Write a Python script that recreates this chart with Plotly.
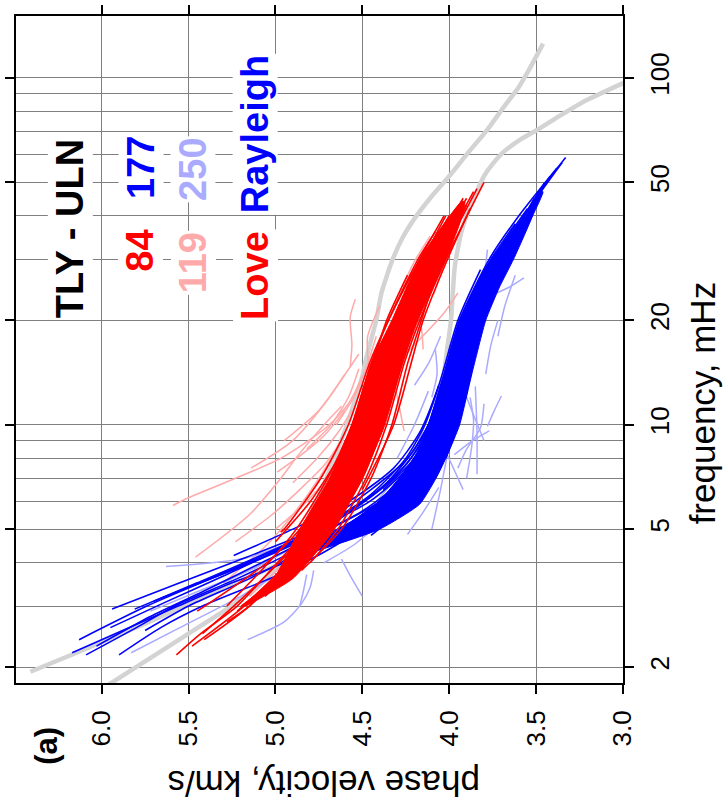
import plotly.graph_objects as go

# ---------------- data (frequency in mHz, phase velocity in km/s) ----------------
# reference (model) curves, light grey
ref_love_f = [1.78, 2.50, 2.94, 3.5, 3.96, 4.94, 7.15, 9.93, 13.8, 15.4, 20.0, 24.0, 29.6, 34.5, 39.3, 45.0, 52.1, 61.0, 71.0, 82.0, 94.1, 108.0, 125.6]
ref_love_v = [5.96, 5.50, 5.28, 5.08, 4.97, 4.84, 4.70, 4.59, 4.50, 4.48, 4.42, 4.39, 4.33, 4.27, 4.20, 4.11, 4.00, 3.89, 3.78, 3.69, 3.60, 3.53, 3.46]
ref_rayl_f = [1.94, 2.19, 2.67, 3.2, 3.96, 4.51, 5.5, 6.26, 8.71, 12.1, 16.8, 20.0, 23.7, 28.0, 32.3, 36.0, 40.1, 46.0, 52.1, 56.5, 61.0, 66.0, 71.0, 78.0, 85.3, 96.6, 110]
ref_rayl_v = [6.41, 6.155, 5.75, 5.40, 4.98, 4.72, 4.45, 4.32, 4.14, 4.05, 4.01, 3.99, 3.98, 3.97, 3.95, 3.93, 3.90, 3.85, 3.80, 3.75, 3.69, 3.60, 3.49, 3.36, 3.23, 3.00, 2.75]

# dense core of the selected Love curves (solid red area)
love_core_f = [3.0, 3.6, 5, 7, 10, 15, 20, 30, 38, 44]
love_core_vhi = [5.20, 5.01, 4.86, 4.69, 4.56, 4.45, 4.33, 4.17, 4.03, 3.93]
love_core_vlo = [5.17, 4.90, 4.66, 4.50, 4.37, 4.27, 4.18, 4.02, 3.94, 3.91]

# dense core of the selected Rayleigh curves (solid blue area)
rayl_core_f = [4.3, 5.0, 5.9, 7.1, 8.2, 10, 14, 20, 25, 30, 35, 40, 47]
rayl_core_vhi = [4.82, 4.62, 4.42, 4.28, 4.19, 4.12, 4.03, 3.94, 3.85, 3.76, 3.65, 3.56, 3.48]
rayl_core_vlo = [4.78, 4.40, 4.17, 4.07, 4.01, 3.94, 3.87, 3.79, 3.71, 3.63, 3.57, 3.52, 3.46]

# selected Love dispersion curves (red)
love_curves = [
    ([2.17, 2.5, 3.0, 4.0, 5.0, 7.0, 10, 15, 20, 30], [5.57, 5.43, 5.22, 4.99, 4.82, 4.64, 4.51, 4.40, 4.30, 4.13]),
    ([2.9, 4, 5, 7, 10, 15, 20, 30, 40], [5.45, 5.05, 4.86, 4.67, 4.54, 4.42, 4.31, 4.14, 4.00]),
    ([2.5, 3, 4, 5, 7, 10, 15, 20, 30, 45], [5.42, 5.24, 4.98, 4.80, 4.62, 4.49, 4.38, 4.28, 4.10, 3.90]),
    ([2.9, 4, 5, 7, 10, 15, 20, 30, 42], [5.22, 4.92, 4.76, 4.58, 4.46, 4.35, 4.26, 4.09, 3.94]),
    ([2.7, 3, 4, 5, 7, 10, 15, 20, 30, 38], [5.28, 5.15, 4.90, 4.73, 4.55, 4.43, 4.33, 4.24, 4.07, 3.97]),
    ([3.5, 4, 5, 7, 10, 15, 20, 30, 48], [4.98, 4.88, 4.70, 4.52, 4.40, 4.30, 4.21, 4.05, 3.84]),
    ([4.9, 5, 7, 10, 15, 20, 30, 40], [4.97, 4.95, 4.74, 4.58, 4.46, 4.35, 4.17, 4.03]),
    ([4.5, 5, 7, 10, 15, 20, 30, 45], [4.88, 4.82, 4.63, 4.50, 4.39, 4.29, 4.12, 3.92]),
    ([4, 5, 7, 10, 15, 20, 30, 50], [4.80, 4.64, 4.48, 4.36, 4.26, 4.17, 4.02, 3.80]),
    ([3.2, 4, 5, 7, 10, 15, 20, 28], [5.06, 4.86, 4.68, 4.50, 4.38, 4.27, 4.19, 4.08]),
    ([5.5, 7, 10, 15, 20, 30, 40], [4.80, 4.67, 4.53, 4.42, 4.32, 4.15, 4.02]),
    ([6, 7, 10, 15, 20, 30, 47], [4.62, 4.55, 4.42, 4.32, 4.23, 4.07, 3.86]),
    ([3.8, 5, 7, 10, 15, 20, 25], [4.85, 4.62, 4.45, 4.33, 4.24, 4.16, 4.10]),
    ([6.5, 10, 15, 20, 30, 42], [4.50, 4.32, 4.22, 4.15, 4.01, 3.88]),
    ([2.3, 3, 4, 5, 7, 10, 15], [5.48, 5.18, 4.93, 4.77, 4.60, 4.48, 4.37]),
    ([3, 4, 5, 7, 10, 15, 20, 30, 36], [5.28, 5.04, 4.88, 4.70, 4.56, 4.45, 4.35, 4.18, 4.08]),
    ([5, 7, 10, 15, 20, 30, 43], [4.70, 4.53, 4.41, 4.31, 4.22, 4.05, 3.90]),
    ([4.2, 5, 7, 10, 15, 20, 30, 40], [4.93, 4.84, 4.66, 4.52, 4.41, 4.30, 4.13, 4.00]),
    ([2.4, 3, 4, 5, 7, 10], [5.41, 5.15, 4.92, 4.76, 4.58, 4.46]),
    ([4.6, 6, 8, 11, 15, 20, 27], [5.00, 4.80, 4.64, 4.52, 4.44, 4.36, 4.24]),
]

# rejected Love curves (light red)
love_extra_curves = [
    ([5.85, 6.1, 8.0, 9.9, 11.5, 13.8], [5.59, 5.52, 4.97, 4.70, 4.58, 4.50]),
    ([4.15, 5.5, 7.0, 8.16, 10, 11.3], [5.46, 5.15, 4.97, 4.87, 4.72, 4.62]),
    ([4.6, 5.5, 6.5, 7.64, 9], [5.23, 5.02, 4.86, 4.72, 4.62]),
    ([7.3, 8.2, 9.3, 11], [4.99, 4.85, 4.72, 4.60]),
    ([7.5, 9, 11.8, 14], [5.14, 4.90, 4.70, 4.60]),
    ([14.7, 17, 20.4, 23], [4.57, 4.56, 4.57, 4.54]),
    ([11, 14, 17.9, 22], [4.45, 4.46, 4.47, 4.40]),
    ([14.7, 17, 21, 24], [4.32, 4.20, 4.03, 3.95]),
    ([16.5, 19, 21.2], [4.15, 4.16, 4.18]),
    ([25, 29.6, 35], [4.27, 4.20, 4.11]),
    ([3.5, 4.5, 5.5, 7, 9], [5.30, 5.05, 4.90, 4.75, 4.62]),
    ([9, 11, 13.5, 16], [4.95, 4.75, 4.62, 4.52]),
    ([12.5, 14, 16.8, 19], [4.52, 4.40, 4.28, 4.22]),
    ([6, 7.5, 9.5, 12], [4.62, 4.50, 4.40, 4.32]),
    ([9.6, 10.8, 12.1, 13], [4.26, 4.28, 4.30, 4.31]),
    ([20.4, 23.7, 27], [4.34, 4.28, 4.22]),
    ([23.7, 27, 31], [4.09, 4.05, 4.00]),
    ([5, 6, 7.5, 9.5], [5.00, 4.82, 4.66, 4.55]),
    ([10, 12, 15, 18], [4.65, 4.55, 4.47, 4.42]),
    ([3.2, 4, 5, 6.5], [5.15, 4.95, 4.80, 4.66]),
    ([8.5, 10, 12, 14.5], [4.82, 4.68, 4.58, 4.52]),
    ([6.8, 8, 9.5, 11], [4.90, 4.76, 4.64, 4.56]),
]

# selected Rayleigh dispersion curves (blue)
rayl_curves = [
    ([2.40, 3.0, 3.6, 4.3, 5.6, 7.0, 8.5, 10, 14, 20, 30], [6.13, 5.74, 5.37, 4.99, 4.51, 4.26, 4.16, 4.09, 4.00, 3.91, 3.74]),
    ([2.2, 3.0, 3.5, 3.96, 5.0, 6.5, 8.2, 10, 14, 20, 30, 40], [6.17, 5.56, 5.25, 4.97, 4.62, 4.32, 4.16, 4.07, 3.98, 3.90, 3.72, 3.57]),
    ([2.17, 2.6, 3.0, 3.6, 4.3, 5.3, 6.5, 8, 10, 15, 22, 32, 45], [6.09, 5.80, 5.58, 5.22, 4.90, 4.55, 4.30, 4.14, 4.04, 3.95, 3.85, 3.67, 3.51]),
    ([2.17, 2.6, 3.0, 3.75, 4.5, 5.5, 7, 9, 12, 18, 25, 35], [5.90, 5.66, 5.42, 4.95, 4.65, 4.40, 4.20, 4.08, 3.99, 3.90, 3.78, 3.62]),
    ([2.94, 3.5, 4.0, 4.8, 6, 7.5, 10, 14, 20, 30, 42], [5.94, 5.55, 5.25, 4.85, 4.46, 4.24, 4.10, 4.01, 3.93, 3.75, 3.55]),
    ([2.94, 3.5, 4.5, 5.5, 7, 9, 12, 18, 26], [5.81, 5.45, 4.95, 4.60, 4.32, 4.15, 4.05, 3.96, 3.82]),
    ([3.4, 4.2, 5.15, 6.5, 8, 10, 14, 20, 30, 40, 55], [5.50, 5.05, 4.74, 4.45, 4.24, 4.12, 4.02, 3.94, 3.77, 3.60, 3.38]),
    ([4.2, 5.0, 6.0, 7.5, 9.5, 13, 20, 28], [5.24, 4.90, 4.58, 4.32, 4.17, 4.06, 3.95, 3.82]),
    ([2.55, 3.0, 3.6, 4.4, 5.5, 7, 9, 12, 17, 25, 35, 48], [5.75, 5.50, 5.15, 4.82, 4.50, 4.25, 4.12, 4.02, 3.94, 3.80, 3.64, 3.47]),
    ([2.3, 2.8, 3.3, 4.0, 4.8, 6.0, 7.5, 10, 15, 22, 32, 44], [6.03, 5.72, 5.42, 5.08, 4.76, 4.40, 4.20, 4.06, 3.95, 3.84, 3.66, 3.50]),
    ([5, 6, 7, 8.2, 10, 14, 20, 25, 30, 36, 42, 50, 59], [4.50, 4.28, 4.15, 4.07, 4.00, 3.92, 3.83, 3.75, 3.66, 3.58, 3.53, 3.44, 3.33]),
    ([5.5, 6.5, 8, 10, 14, 20, 30, 40, 52], [4.62, 4.40, 4.22, 4.12, 4.03, 3.94, 3.75, 3.57, 3.42]),
    ([6, 7, 8.5, 10, 14, 20, 26, 32], [4.20, 4.10, 4.02, 3.96, 3.88, 3.80, 3.72, 3.64]),
    ([4.8, 6, 7.5, 9, 12, 17, 24, 33, 45], [4.45, 4.22, 4.10, 4.03, 3.96, 3.88, 3.77, 3.62, 3.48]),
    ([7, 8.5, 10, 13, 18, 24, 30, 38], [4.28, 4.17, 4.10, 4.03, 3.95, 3.86, 3.76, 3.62]),
    ([5.2, 6.2, 7.5, 9, 11, 15, 21, 28, 38, 50], [4.55, 4.36, 4.22, 4.12, 4.05, 3.98, 3.89, 3.78, 3.60, 3.45]),
    ([8, 10, 13, 17, 22, 28, 36], [4.02, 3.95, 3.89, 3.84, 3.77, 3.68, 3.57]),
    ([6.5, 8, 10, 14, 20, 30, 42, 57], [4.38, 4.20, 4.09, 4.00, 3.91, 3.72, 3.54, 3.35]),
    ([2.6, 3.1, 3.7, 4.5, 5.4, 6.8, 8.5, 11, 16], [5.95, 5.62, 5.28, 4.92, 4.62, 4.36, 4.20, 4.08, 3.98]),
    ([3.1, 3.7, 4.4, 5.2, 6.3, 8, 10, 13], [5.70, 5.32, 4.98, 4.70, 4.45, 4.25, 4.14, 4.06]),
]

# rejected Rayleigh curves (light blue)
rayl_extra_curves = [
    ([3.9, 4.1, 4.5, 5.2, 6], [5.63, 5.20, 4.95, 4.70, 4.50]),
    ([2.2, 2.6, 3.2, 3.8], [5.83, 5.55, 5.20, 4.95]),
    ([2.4, 2.7, 3.05, 3.4, 3.8], [5.16, 4.95, 4.85, 4.80, 4.78]),
    ([3.0, 3.3, 3.7], [4.86, 4.84, 4.82]),
    ([3.2, 3.6, 4.1], [4.50, 4.56, 4.62]),
    ([4.0, 4.5, 5.2], [4.72, 4.55, 4.40]),
    ([4.83, 5.6, 6.6], [4.24, 4.15, 4.06]),
    ([6.5, 7.2, 8.16], [3.92, 3.96, 4.01]),
    ([5.0, 6.5, 8.7, 10], [4.10, 4.05, 4.00, 3.97]),
    ([8.2, 8.9, 9.6], [3.97, 3.88, 3.77]),
    ([7.2, 9.5, 12.9], [3.84, 3.84, 3.85]),
    ([9, 11.3, 14], [3.80, 3.88, 3.95]),
    ([12, 14, 16.5], [4.10, 4.07, 4.08]),
    ([13, 15, 18], [4.20, 4.12, 4.05]),
    ([23.7, 25, 26.5], [3.75, 3.65, 3.57]),
    ([27, 29, 32], [3.80, 3.79, 3.78]),
    ([3.5, 4.2, 5.0, 6.0], [5.30, 4.98, 4.72, 4.50]),
    ([2.9, 3.3, 3.9, 4.6], [5.72, 5.45, 5.10, 4.85]),
    ([6, 8, 10.6, 13], [4.42, 4.22, 4.12, 4.05]),
    ([8, 10, 12.5], [4.30, 4.20, 4.12]),
    ([7, 8.7, 10.3, 12], [3.90, 3.87, 3.86, 3.88]),
    ([9.9, 11, 12.1], [3.78, 3.74, 3.70]),
    ([14, 17, 20], [3.79, 3.76, 3.72]),
    ([18, 22, 27], [3.72, 3.68, 3.62]),
    ([7.5, 8.5, 9.8, 11.5], [3.95, 3.90, 3.82, 3.80]),
    ([15, 18, 22, 26], [3.88, 3.84, 3.80, 3.74]),
]

# counts written in the legend block
n_love, n_love_rej, n_rayl, n_rayl_rej = 84, 119, 177, 250

vel_ticks = [3.0, 3.5, 4.0, 4.5, 5.0, 5.5, 6.0]
freq_ticks = [2, 5, 10, 20, 50, 100]
freq_minor = [3, 4, 6, 7, 8, 9, 30, 40, 60, 70, 80, 90]

RED, BLUE, PINK, LBLUE, GREY = "#ff0000", "#0000ff", "#ffaaaa", "#aaaaff", "#d3d3d3"


def joined(curves):
    xs, ys = [], []
    for f, v in curves:
        xs += list(v) + [None]
        ys += list(f) + [None]
    return xs, ys


def lines_trace(curves, color, width):
    xs, ys = joined(curves)
    return go.Scatter(x=xs, y=ys, mode="lines", hoverinfo="skip", showlegend=False,
                      line=dict(color=color, width=width, shape="spline", smoothing=0.7))


def band_trace(f, vhi, vlo, color):
    return go.Scatter(x=list(vhi) + list(vlo)[::-1], y=list(f) + list(f)[::-1],
                      mode="lines", fill="toself", fillcolor=color, hoverinfo="skip",
                      showlegend=False, line=dict(color=color, width=1, shape="spline", smoothing=0.5))


fig = go.Figure()
for f, v in [(ref_love_f, ref_love_v), (ref_rayl_f, ref_rayl_v)]:
    fig.add_trace(go.Scatter(x=v, y=f, mode="lines", hoverinfo="skip", showlegend=False,
                             line=dict(color=GREY, width=4.5, shape="spline", smoothing=0.5)))
fig.add_trace(lines_trace(love_extra_curves, PINK, 1.5))
fig.add_trace(lines_trace(rayl_extra_curves, LBLUE, 1.5))
fig.add_trace(band_trace(rayl_core_f, rayl_core_vhi, rayl_core_vlo, BLUE))
fig.add_trace(lines_trace(rayl_curves, BLUE, 1.6))
fig.add_trace(band_trace(love_core_f, love_core_vhi, love_core_vlo, RED))
fig.add_trace(lines_trace(love_curves, RED, 1.6))

# plot area in pixels: left 14, right 623, top 5, bottom 683
L, R, T, B = 14, 623, 5, 683


def px(x):
    return (x - L) / (R - L)


def py(y):
    return (B - y) / (B - T)


FONT = "Liberation Sans, Arial, sans-serif"
GRID = "#7f7f7f"

fig.update_layout(
    width=725, height=809,
    margin=dict(l=L, r=725 - R, t=T, b=809 - B),
    plot_bgcolor="white", paper_bgcolor="white",
    font=dict(family=FONT, color="black"),
    showlegend=False,
    xaxis=dict(range=[6.493, 3.0], tickmode="array", tickvals=vel_ticks,
               ticktext=[f"{t:.1f}" for t in vel_ticks], tickangle=-90,
               tickfont=dict(size=26, family=FONT, color="black"), ticklabelstandoff=6,
               showgrid=True, gridcolor=GRID, gridwidth=1, zeroline=False,
               showline=True, linecolor="black", linewidth=2, mirror="ticks",
               ticks="outside", ticklen=9, tickwidth=2, tickcolor="black"),
    yaxis=dict(type="log", range=[0.2553, 2.1787], side="right", tickmode="array",
               tickvals=freq_ticks, ticktext=[str(t) for t in freq_ticks], tickangle=-90,
               tickfont=dict(size=26, family=FONT, color="black"), ticklabelstandoff=4,
               showgrid=True, gridcolor=GRID, gridwidth=1, zeroline=False,
               showline=True, linecolor="black", linewidth=2, mirror="ticks",
               ticks="outside", ticklen=9, tickwidth=2, tickcolor="black",
               minor=dict(tickmode="array", tickvals=freq_minor, showgrid=True,
                          gridcolor=GRID, gridwidth=1, ticks="")),
)

ann = []


def text(s, x, y, color="black", size=38, angle=-90, bold=True, bg=True):
    ann.append(dict(text=f"<b>{s}</b>" if bold else s, x=px(x), y=py(y), xref="paper", yref="paper",
                    xanchor="center", yanchor="middle", showarrow=False, textangle=angle,
                    font=dict(size=size, color=color, family=FONT),
                    bgcolor="white" if bg else None, borderpad=1))


text("TLY - ULN", 69, 221)
text(str(n_love), 139, 244, RED)
text(str(n_rayl), 139, 159, BLUE)
text(str(n_love_rej), 192, 256, PINK)
text(str(n_rayl_rej), 192, 161, LBLUE)
text("Love", 254, 269, RED)
text("Rayleigh", 254, 125, BLUE)
text("(a)", 45, 747, size=31, bg=False)
text("phase velocity, km/s", 322, 785, size=35, angle=180, bold=False, bg=False)
text("frequency, mHz", 703, 398, size=35, bold=False, bg=False)
fig.update_layout(annotations=ann)

fig.write_html("out.html")
